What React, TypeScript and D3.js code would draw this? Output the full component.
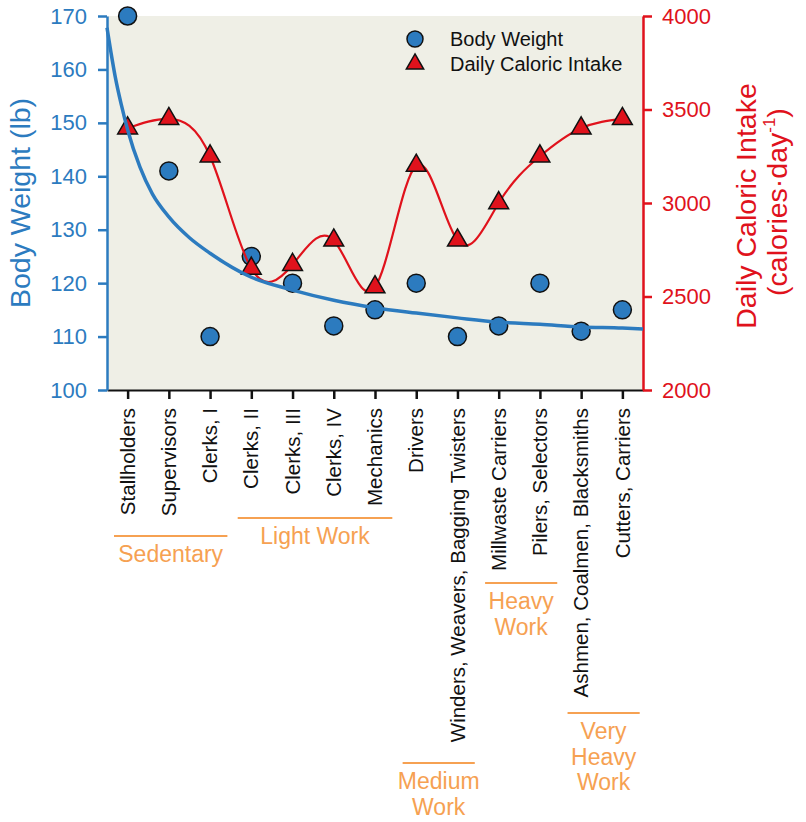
import { useEffect, useRef } from "react";
import * as d3 from "d3";

// occupational groups, in axis order
const categories = [
  "Stallholders",
  "Supervisors",
  "Clerks, I",
  "Clerks, II",
  "Clerks, III",
  "Clerks, IV",
  "Mechanics",
  "Drivers",
  "Winders, Weavers, Bagging Twisters",
  "Millwaste Carriers",
  "Pilers, Selectors",
  "Ashmen, Coalmen, Blacksmiths",
  "Cutters, Carriers",
];

// body weight (lb), blue circles
const bodyWeight = [170, 141, 110, 125, 120, 112, 115, 120, 110, 112, 120, 111, 115];

// daily caloric intake (calories/day), red triangles
const caloricIntake = [3400, 3450, 3250, 2650, 2670, 2800, 2550, 3200, 2800, 3000, 3250, 3400, 3450];

// fitted body weight curve (category index, lb)
const fitIndex = [-0.5, -0.4, -0.3, -0.15, 0, 0.3, 0.6, 1, 1.5, 2, 3, 4, 5, 6, 7, 8, 9, 10, 11, 12, 12.5];
const fitWeight = [167.8, 163, 158.6, 153.3, 148.7, 141.7, 136.7, 132.4, 128.5, 125.6, 121.1, 118.7, 116.8, 115.4, 114.4, 113.5, 112.7, 112.3, 111.8, 111.6, 111.4];

// tick values
const weightTicks = [100, 110, 120, 130, 140, 150, 160, 170];
const calorieTicks = [2000, 2500, 3000, 3500, 4000];

// work-level groups under the category labels
const groupLabels = [["Sedentary"], ["Light Work"], ["Medium", "Work"], ["Heavy", "Work"], ["Very", "Heavy", "Work"]];
const groupFirst = [0, 3, 7, 9, 11];
const groupLast = [2, 6, 8, 10, 12];

const BLUE = "#2c7bbf";
const RED = "#e0121c";
const ORANGE = "#f6a152";
const FONT = "'Liberation Sans', Arial, sans-serif";

export default function App() {
  const svgRef = useRef<SVGSVGElement | null>(null);

  useEffect(() => {
    if (!svgRef.current) return;
    const svg = d3.select(svgRef.current);
    svg.selectAll("*").remove();

    const left = 107, right = 643, top = 16, bottom = 390;

    const xi = d3.scaleLinear().domain([-0.5, categories.length - 0.5]).range([left, right]);
    const xp = d3.scalePoint<string>().domain(categories).range([left, right]).padding(0.5);
    const yL = d3.scaleLinear().domain([100, 170]).range([bottom, top]);
    const yR = d3.scaleLinear().domain([2000, 4000]).range([bottom, top]);

    // plot background
    svg.append("rect")
      .attr("x", left).attr("y", top)
      .attr("width", right - left).attr("height", bottom - top)
      .attr("fill", "#efefe6");

    // bottom axis
    const gx = svg.append("g")
      .attr("transform", `translate(0,${bottom})`)
      .call(d3.axisBottom(xp).tickSize(9).tickSizeOuter(0).tickFormat(() => ""));
    gx.select(".domain").attr("stroke", "#111").attr("stroke-width", 2);
    gx.selectAll(".tick line").attr("stroke", "#111").attr("stroke-width", 2.5);

    // category labels
    svg.append("g")
      .selectAll("text")
      .data(categories)
      .join("text")
      .attr("transform", d => `translate(${xp(d)},408) rotate(-90)`)
      .attr("dy", "0.35em")
      .attr("text-anchor", "end")
      .attr("font-family", FONT)
      .attr("font-size", 20.5)
      .attr("fill", "#111")
      .text(d => d);

    // left axis
    const gl = svg.append("g")
      .attr("transform", `translate(${left},0)`)
      .call(d3.axisLeft(yL).tickValues(weightTicks).tickSize(9).tickSizeOuter(0).tickPadding(11));
    gl.select(".domain").attr("stroke", BLUE).attr("stroke-width", 2.5);
    gl.selectAll(".tick line").attr("stroke", BLUE).attr("stroke-width", 2.5);
    gl.selectAll(".tick text").attr("fill", BLUE).attr("font-size", 22).attr("font-family", FONT);

    // right axis
    const gr = svg.append("g")
      .attr("transform", `translate(${right},0)`)
      .call(d3.axisRight(yR).tickValues(calorieTicks).tickFormat(d3.format("d")).tickSize(9).tickSizeOuter(0).tickPadding(10));
    gr.select(".domain").attr("stroke", RED).attr("stroke-width", 2.5);
    gr.selectAll(".tick line").attr("stroke", RED).attr("stroke-width", 2.5);
    gr.selectAll(".tick text").attr("fill", RED).attr("font-size", 22).attr("font-family", FONT);

    // axis titles
    svg.append("text")
      .attr("transform", `translate(30,203) rotate(-90)`)
      .attr("text-anchor", "middle")
      .attr("font-family", FONT)
      .attr("font-size", 28.5)
      .attr("fill", BLUE)
      .text("Body Weight (lb)");

    svg.append("text")
      .attr("transform", `translate(756,206) rotate(-90)`)
      .attr("text-anchor", "middle")
      .attr("font-family", FONT)
      .attr("font-size", 28.5)
      .attr("fill", RED)
      .text("Daily Caloric Intake");
    const rt2 = svg.append("text")
      .attr("transform", `translate(787,202) rotate(-90)`)
      .attr("text-anchor", "middle")
      .attr("font-family", FONT)
      .attr("font-size", 28.5)
      .attr("fill", RED);
    rt2.append("tspan").text("(calories·day");
    rt2.append("tspan").attr("font-size", 17).attr("dy", "-0.7em").text("-1");
    rt2.append("tspan").attr("dy", "0.42em").text(")");

    // blue circles
    svg.append("g")
      .selectAll("circle")
      .data(bodyWeight)
      .join("circle")
      .attr("cx", (_, i) => xi(i))
      .attr("cy", d => yL(d))
      .attr("r", 9)
      .attr("fill", BLUE)
      .attr("stroke", "#111")
      .attr("stroke-width", 1.5);

    // red smooth curve
    const redLine = d3.line<number>()
      .x((_, i) => xi(i))
      .y(d => yR(d))
      .curve(d3.curveNatural);
    svg.append("path")
      .attr("d", redLine(caloricIntake))
      .attr("fill", "none")
      .attr("stroke", RED)
      .attr("stroke-width", 2.2);

    // red triangles
    const tri = d3.symbol().type(d3.symbolTriangle).size(170);
    svg.append("g")
      .selectAll("path")
      .data(caloricIntake)
      .join("path")
      .attr("transform", (d, i) => `translate(${xi(i)},${yR(d)})`)
      .attr("d", tri)
      .attr("fill", RED)
      .attr("stroke", "#111")
      .attr("stroke-width", 1.5);

    // fitted blue curve
    const fitLine = d3.line<number>()
      .x((_, i) => xi(fitIndex[i]))
      .y(d => yL(d))
      .curve(d3.curveMonotoneX);
    svg.append("path")
      .attr("d", fitLine(fitWeight))
      .attr("fill", "none")
      .attr("stroke", BLUE)
      .attr("stroke-width", 3.5);

    // legend
    const lg = svg.append("g").attr("font-family", FONT).attr("font-size", 20).attr("fill", "#111");
    lg.append("circle").attr("cx", 415).attr("cy", 39).attr("r", 8)
      .attr("fill", BLUE).attr("stroke", "#111").attr("stroke-width", 1.5);
    lg.append("path").attr("transform", "translate(415,64)").attr("d", d3.symbol().type(d3.symbolTriangle).size(130)())
      .attr("fill", RED).attr("stroke", "#111").attr("stroke-width", 1.5);
    lg.append("text").attr("x", 450).attr("y", 46).text("Body Weight");
    lg.append("text").attr("x", 450).attr("y", 71).text("Daily Caloric Intake");

    // work-level brackets
    const groupLineY = [536, 518, 763, 583, 713];
    const step = xi(1) - xi(0);
    const gg = svg.append("g");
    groupLabels.forEach((lines, k) => {
      const x0 = xi(groupFirst[k]) - 0.33 * step;
      const x1 = xi(groupLast[k]) + 0.42 * step;
      const ly = groupLineY[k];
      gg.append("line")
        .attr("x1", x0).attr("x2", x1)
        .attr("y1", ly).attr("y2", ly)
        .attr("stroke", ORANGE).attr("stroke-width", 2);
      const t = gg.append("text")
        .attr("text-anchor", "middle")
        .attr("font-family", FONT)
        .attr("font-size", 23)
        .attr("fill", ORANGE);
      lines.forEach((s, j) => {
        t.append("tspan")
          .attr("x", (x0 + x1) / 2)
          .attr("y", ly + 26 + j * 25.5)
          .text(s);
      });
    });
  }, []);

  return (
    <svg
      ref={svgRef}
      width={806}
      height={822}
      style={{ position: "absolute", left: 0, top: 0, background: "#fff" }}
    />
  );
}
